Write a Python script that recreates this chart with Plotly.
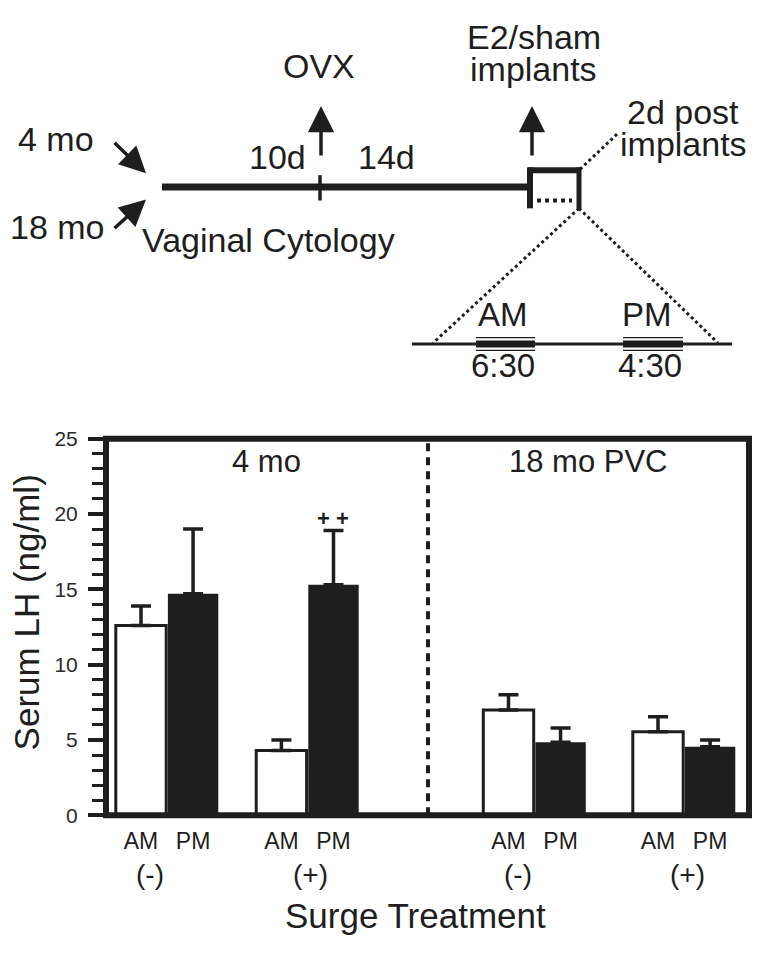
import plotly.graph_objects as go
import numpy as np

# ---------------- data ----------------
treatments = ["(-)", "(+)", "(-)", "(+)"]
cohorts = ["4 mo", "18 mo PVC"]
sessions = ["AM", "PM"]
am_values = [12.6, 4.3, 7.0, 5.55]
am_sem = [1.3, 0.7, 1.0, 1.0]
pm_values = [14.7, 15.3, 4.85, 4.55]
pm_sem = [4.3, 3.6, 0.95, 0.45]
y_tick_values = [0, 5, 10, 15, 20, 25]
sig_mark = "+ +"
sig_group = 1

# ---------------- layout helpers ----------------
W, H = 762, 955
OFF = 8  # page margin of the html body
FONT = "Liberation Sans, Arial, Helvetica, sans-serif"
INK = "#1e1e1e"

group_pos = np.array([0.436, 1.439, 3.061, 4.129])
offset, bar_w = 0.186, 0.36
x_range = [0, 4.593]
divider = 2.3
panel_centers = [divider / 2, (divider + x_range[1]) / 2]

def px(x):
    return (x - OFF) / W

def py(y):
    return 1 - (y - OFF) / H

fig = go.Figure()
fig.add_trace(go.Bar(
    x=group_pos - offset, y=am_values, width=bar_w,
    marker=dict(color="white", line=dict(color=INK, width=3)),
    error_y=dict(type="data", symmetric=False, array=am_sem,
                 arrayminus=[0] * 4, color=INK, thickness=3.5, width=10),
    name="AM", showlegend=False,
))
fig.add_trace(go.Bar(
    x=group_pos + offset, y=pm_values, width=bar_w,
    marker=dict(color=INK, line=dict(color=INK, width=0)),
    error_y=dict(type="data", symmetric=False, array=pm_sem,
                 arrayminus=[0] * 4, color=INK, thickness=3.5, width=10),
    name="PM", showlegend=False,
))

tickvals = list(np.concatenate([group_pos - offset, group_pos + offset]))
ticktext = [sessions[0]] * 4 + [sessions[1]] * 4

fig.update_layout(
    width=W, height=H,
    margin=dict(l=0, r=0, t=0, b=0),
    paper_bgcolor="white", plot_bgcolor="white",
    barmode="overlay",
    font=dict(family=FONT, color=INK),
    xaxis=dict(domain=[px(106), px(749)], range=x_range,
               showgrid=False, zeroline=False, showline=False,
               tickvals=tickvals, ticktext=ticktext, ticks="",
               tickfont=dict(size=23, color=INK), ticklabelstandoff=10),
    yaxis=dict(domain=[py(823), py(437)], range=[0, 25],
               showgrid=False, zeroline=False, showline=False,
               tickvals=y_tick_values, ticks="outside", ticklen=17,
               tickwidth=3.5, tickcolor=INK,
               tickfont=dict(size=21, color="#2a2a2a"), ticklabelstandoff=6,
               minor=dict(dtick=1, ticks="outside", ticklen=13,
                          tickwidth=3, tickcolor=INK)),
)

shapes = []
shapes.append(dict(type="rect", xref="x domain", yref="y domain",
                   x0=0, x1=1, y0=0, y1=1,
                   line=dict(color=INK, width=6), layer="above"))
shapes.append(dict(type="line", xref="x", yref="y domain",
                   x0=divider, x1=divider, y0=0, y1=1,
                   line=dict(color=INK, width=4, dash="8px,6px")))

def seg(x0, y0, x1, y1, width, dash="solid", color=INK):
    shapes.append(dict(type="line", xref="paper", yref="paper",
                       x0=px(x0), y0=py(y0), x1=px(x1), y1=py(y1),
                       line=dict(color=color, width=width, dash=dash)))

# timeline diagram
seg(162, 179, 530, 179, 7)
seg(320, 167, 320, 193, 3.5)
seg(530, 159, 530, 201, 6)
seg(528, 162, 581, 162, 6)
seg(579, 159, 579, 201, 5)
seg(537, 193, 572, 193, 4, "dot")
seg(580, 161, 617, 125, 3, "dot")
seg(579, 201, 433, 339, 3, "dot")
seg(579, 201, 718, 339, 3, "dot")
seg(412, 340, 732, 340, 3)
for a, b in [(476, 535), (623, 683)]:
    seg(a, 333.5, b, 333.5, 1.3)
    seg(a, 346.5, b, 346.5, 1.3)
    seg(a, 340, b, 340, 7)

fig.update_layout(shapes=shapes)

ann = []

def text(x, y, s, size, **kw):
    d = dict(xref="paper", yref="paper", x=px(x), y=py(y), text=s,
             showarrow=False, xanchor="center", yanchor="middle",
             font=dict(size=size, color=INK, family=FONT))
    d.update(kw)
    ann.append(d)

def arrow(hx, hy, tx, ty):
    ann.append(dict(xref="paper", yref="paper", x=px(hx), y=py(hy),
                    ax=tx - hx, ay=ty - hy, text="", showarrow=True,
                    arrowhead=2, arrowsize=1.5, arrowwidth=3.5,
                    arrowcolor=INK, standoff=0, startstandoff=0))

text(319, 55, "OVX", 34)
text(534, 25, "E2/sham", 34)
text(533, 58, "implants", 34)
text(683, 102, "2d post", 34)
text(683, 135, "implants", 34)
text(56, 130, "4 mo", 34)
text(57, 220, "18 mo", 34)
text(277, 148, "10d", 34)
text(386, 148, "14d", 34)
text(268, 233, "Vaginal Cytology", 34)
text(503, 310, "AM", 33)
text(647, 310, "PM", 33)
text(503, 362, "6:30", 33)
text(650, 362, "4:30", 33)

arrow(321, 96, 321, 147)
arrow(532, 96, 532, 147)
arrow(146, 165, 113, 133)
arrow(146, 192, 113, 222)

for c, xc in zip(cohorts, panel_centers):
    ann.append(dict(xref="x", yref="paper", x=xc, y=py(460), text=c,
                    showarrow=False, xanchor="center", yanchor="middle",
                    font=dict(size=31, color=INK, family=FONT)))
ann.append(dict(xref="x", yref="y", x=group_pos[sig_group] + offset,
                y=pm_values[sig_group] + pm_sem[sig_group], text="<b>" + sig_mark + "</b>",
                showarrow=False, xanchor="center", yanchor="bottom", yshift=-2,
                font=dict(size=22, color=INK, family=FONT)))
for t, xc in zip(treatments, group_pos):
    ann.append(dict(xref="x", yref="paper", x=xc, y=py(884), text=t,
                    showarrow=False, xanchor="center", yanchor="middle",
                    xshift=-17 if t == "(-)" else 3,
                    font=dict(size=28, color=INK, family=FONT)))
text(415, 926, "Surge Treatment", 35)
text(26, 615, "Serum LH (ng/ml)", 35, textangle=-90)

fig.update_layout(annotations=ann)
fig.write_html("out.html")
